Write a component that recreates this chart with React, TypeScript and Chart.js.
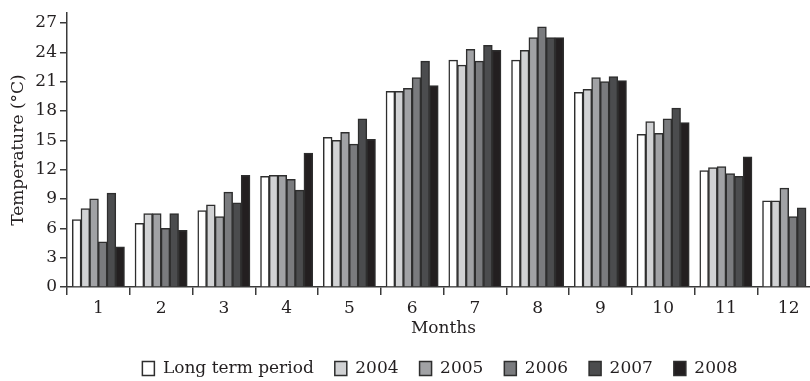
import React, { useEffect, useRef } from "react";
import { Chart, registerables } from "chart.js";

Chart.register(...registerables);

const months = ["1", "2", "3", "4", "5", "6", "7", "8", "9", "10", "11", "12"];
const seriesNames = ["Long term period", "2004", "2005", "2006", "2007", "2008"];
const longTerm = [6.9, 6.5, 7.8, 11.3, 15.3, 20.0, 23.2, 23.2, 19.9, 15.6, 11.9, 8.8];
const y2004 = [8.0, 7.5, 8.4, 11.4, 15.0, 20.0, 22.7, 24.2, 20.2, 16.9, 12.2, 8.8];
const y2005 = [9.0, 7.5, 7.2, 11.4, 15.8, 20.3, 24.3, 25.5, 21.4, 15.7, 12.3, 10.1];
const y2006 = [4.6, 6.0, 9.7, 11.0, 14.6, 21.4, 23.1, 26.6, 21.0, 17.2, 11.6, 7.2];
const y2007 = [9.6, 7.5, 8.6, 9.9, 17.2, 23.1, 24.7, 25.5, 21.5, 18.3, 11.3, 8.1];
const y2008 = [4.1, 5.8, 11.4, 13.7, 15.1, 20.6, 24.2, 25.5, 21.1, 16.8, 13.3, null];
const yTickValues = [0, 3, 6, 9, 12, 15, 18, 21, 24, 27];

const fills = ["#ffffff", "#d1d2d4", "#a1a2a5", "#7a7b7e", "#4b4c4e", "#231f20"];
const ink = "#231f20";
const fontFamily = "'DejaVu Serif', 'Liberation Serif', serif";

const legendShift = {
  id: "legendShift",
  afterLayout(chart: any) {
    const lg = chart.legend;
    if (lg) {
      lg.left += 30;
      lg.right += 30;
    }
  },
};

export default function App() {
  const ref = useRef<HTMLCanvasElement | null>(null);

  useEffect(() => {
    if (!ref.current) return;
    const values = [longTerm, y2004, y2005, y2006, y2007, y2008];
    const font = { family: fontFamily, size: 17 };
    const chart = new Chart(ref.current, {
      type: "bar",
      data: {
        labels: months,
        datasets: values.map((v, i) => ({
          label: seriesNames[i],
          data: v,
          backgroundColor: fills[i],
          borderColor: "#2e2e2e",
          borderWidth: 1.5,
          inflateAmount: 0.4,
          categoryPercentage: 0.83,
          barPercentage: 1.0,
        })),
      },
      options: {
        responsive: false,
        animation: false,
        layout: { padding: { top: 13, left: 0, right: 0, bottom: 0 } },
        plugins: {
          tooltip: { enabled: false },
          legend: {
            position: "bottom",
            labels: {
              font,
              color: ink,
              boxWidth: 12,
              boxHeight: 14,
              padding: 21,
            },
          },
        },
        scales: {
          x: {
            grid: {
              offset: true,
              drawOnChartArea: false,
              drawTicks: true,
              tickLength: 8,
              color: "#3a3a3a",
              lineWidth: 1.5,
            },
            border: { display: true, color: "#3a3a3a", width: 1.5 },
            ticks: { font, color: ink, padding: 3, maxRotation: 0, autoSkip: false },
            title: {
              display: true,
              text: "Months",
              font,
              color: ink,
              padding: { top: 0, bottom: 0 },
            },
            afterFit: (s: any) => {
              s.height = 52;
            },
          },
          y: {
            min: 0,
            max: 28,
            ticks: { stepSize: 3, font, color: ink, padding: 3 },
            afterBuildTicks: (s: any) => {
              s.ticks = yTickValues.map((v) => ({ value: v }));
            },
            grid: {
              drawOnChartArea: false,
              drawTicks: true,
              tickLength: 7,
              color: "#3a3a3a",
              lineWidth: 1.5,
            },
            border: { display: true, color: "#3a3a3a", width: 1.5 },
            title: {
              display: true,
              text: "Temperature (°C)",
              font,
              color: ink,
              padding: { top: 8, bottom: 0 },
            },
            afterFit: (s: any) => {
              s.width = 67;
            },
          },
        },
      },
      plugins: [legendShift],
    });
    return () => chart.destroy();
  }, []);

  return (
    <div
      style={{
        position: "fixed",
        left: 0,
        top: 0,
        width: 810,
        height: 381,
        overflow: "hidden",
        background: "#ffffff",
      }}
    >
      <canvas ref={ref} width={820} height={387} style={{ width: 820, height: 387, display: "block" }} />
    </div>
  );
}
